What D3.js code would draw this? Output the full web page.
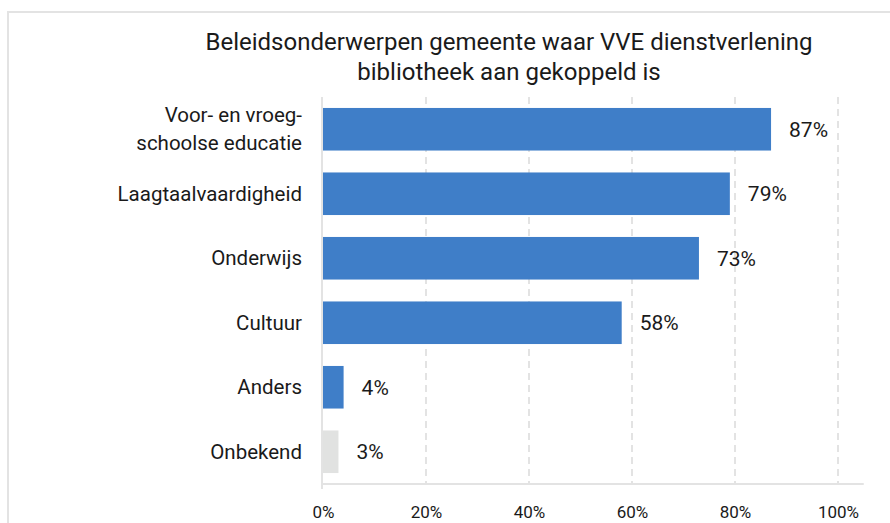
<!DOCTYPE html>
<html>
<head>
<meta charset="utf-8">
<script src="https://cdn.jsdelivr.net/npm/d3@7"></script>
<style>
  body { margin: 0; background: #fff; }
  text { font-family: Roboto, "Noto Sans", sans-serif; fill: #1a1a1a; }
</style>
</head>
<body>
<svg id="chart" width="890" height="523"></svg>
<script>
var categories = [["Voor- en vroeg-", "schoolse educatie"], ["Laagtaalvaardigheid"], ["Onderwijs"], ["Cultuur"], ["Anders"], ["Onbekend"]];
var values = [87, 79, 73, 58, 4, 3];
var barColors = ["#3f7ec8", "#3f7ec8", "#3f7ec8", "#3f7ec8", "#3f7ec8", "#e1e2e1"];
var tickValues = [0, 20, 40, 60, 80, 100];
var titleLines = ["Beleidsonderwerpen gemeente waar VVE dienstverlening", "bibliotheek aan gekoppeld is"];

var svg = d3.select("#chart");

// frame round the chart
svg.append("rect")
  .attr("x", 8).attr("y", 12)
  .attr("width", 900).attr("height", 540)
  .attr("fill", "none")
  .attr("stroke", "#e3e3e3")
  .attr("stroke-width", 2);

var data = values.map(function(v, i) { return { i: i, name: categories[i], value: v, color: barColors[i] }; });

var x = d3.scaleLinear().domain([0, 100]).range([323, 838]);
var y = d3.scaleBand().domain(data.map(function(d) { return d.i; })).range([97, 484]).paddingInner(0.34).paddingOuter(0.17);

// title
svg.append("text")
  .attr("x", 509).attr("y", 50)
  .attr("text-anchor", "middle")
  .style("font-size", "24px")
  .selectAll("tspan")
  .data(titleLines)
  .enter().append("tspan")
    .attr("x", 509)
    .attr("dy", function(d, i) { return i ? 30 : 0; })
    .text(function(d) { return d; });

// dashed grid
svg.append("g")
  .selectAll("line")
  .data(tickValues.slice(1))
  .enter().append("line")
    .attr("x1", function(d) { return x(d); })
    .attr("x2", function(d) { return x(d); })
    .attr("y1", 97).attr("y2", 484)
    .attr("stroke", "#e3e3e3")
    .attr("stroke-width", 2)
    .attr("stroke-dasharray", "7,5");

// axis
var xAxis = svg.append("g")
  .attr("transform", "translate(0,484)")
  .call(d3.axisBottom(x).tickValues(tickValues).tickFormat(function(d) { return d + "%"; }).tickSize(0).tickPadding(22));
xAxis.select(".domain").remove();
xAxis.selectAll("text").style("font-size", "17px").style("font-family", "Roboto, sans-serif").attr("fill", "#1a1a1a");

svg.append("line")
  .attr("x1", x(0) - 1).attr("x2", x(105))
  .attr("y1", 484).attr("y2", 484)
  .attr("stroke", "#e3e3e3").attr("stroke-width", 2);
svg.append("line")
  .attr("x1", x(0) - 1).attr("x2", x(0) - 1)
  .attr("y1", 97).attr("y2", 489)
  .attr("stroke", "#e3e3e3").attr("stroke-width", 2);

// bars
svg.selectAll(".bar")
  .data(data)
  .enter().append("rect")
    .attr("class", "bar")
    .attr("x", x(0))
    .attr("y", function(d) { return y(d.i); })
    .attr("width", function(d) { return x(d.value) - x(0); })
    .attr("height", y.bandwidth())
    .attr("fill", function(d) { return d.color; });

// value labels
svg.selectAll(".val")
  .data(data)
  .enter().append("text")
    .attr("class", "val")
    .attr("x", function(d) { return x(d.value) + 18; })
    .attr("y", function(d) { return y(d.i) + y.bandwidth() / 2; })
    .attr("dy", "0.35em")
    .style("font-size", "21px")
    .text(function(d) { return d.value + "%"; });

// category labels
svg.selectAll(".cat")
  .data(data)
  .enter().append("text")
    .attr("class", "cat")
    .attr("text-anchor", "end")
    .attr("x", 302)
    .attr("y", function(d) { return y(d.i) + y.bandwidth() / 2 - (d.name.length - 1) * 14; })
    .style("font-size", "20.5px")
    .selectAll("tspan")
    .data(function(d) { return d.name; })
    .enter().append("tspan")
      .attr("x", 302)
      .attr("dy", function(d, i) { return i ? 28 : "0.35em"; })
      .text(function(d) { return d; });
</script>
</body>
</html>
